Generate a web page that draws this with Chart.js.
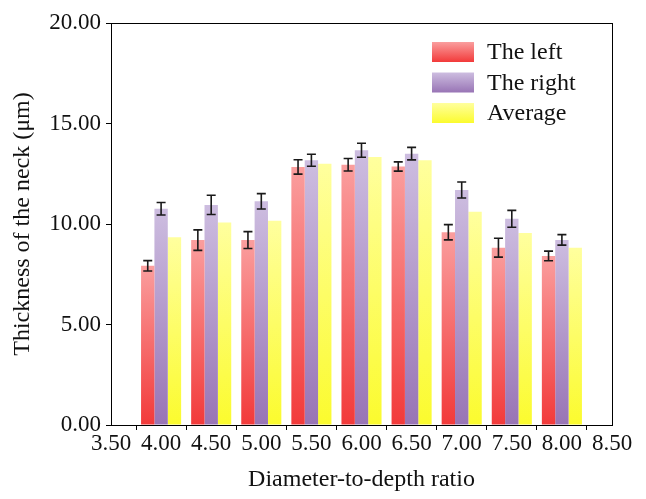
<!DOCTYPE html>
<html>
<head>
<meta charset="utf-8">
<script src="https://cdn.jsdelivr.net/npm/chart.js@4/dist/chart.umd.min.js"></script>
<style>
  html, body { margin: 0; padding: 0; background: #fff; }
  canvas { display: block; }
</style>
</head>
<body>
<canvas id="neckChart" width="646" height="499"></canvas>
<script>
// data
const ratios = [4.0, 4.5, 5.0, 5.5, 6.0, 6.5, 7.0, 7.5, 8.0];
const leftVals = [7.92, 9.20, 9.20, 12.84, 12.95, 12.86, 9.59, 8.82, 8.41];
const leftErr = [0.26, 0.51, 0.42, 0.36, 0.31, 0.23, 0.38, 0.47, 0.24];
const rightVals = [10.76, 10.95, 11.13, 13.17, 13.67, 13.50, 11.69, 10.26, 9.21];
const rightErr = [0.31, 0.48, 0.38, 0.30, 0.35, 0.31, 0.40, 0.42, 0.26];
const avgVals = [9.34, 10.08, 10.16, 13.00, 13.33, 13.17, 10.61, 9.55, 8.82];
const yTicks = [0, 5, 10, 15, 20];

const FAMILY = '"Liberation Serif", "Times New Roman", serif';
const FONT = { family: FAMILY, size: 24 };
const TICK_FONT = { family: FAMILY, size: 23 };

// top light -> bottom saturated, per bar
function barGradient(top, bottom) {
    return function (c) {
        const chart = c.chart;
        const area = chart.chartArea;
        if (!area || c.raw == null) return bottom;
        const yTop = chart.scales.y.getPixelForValue(c.raw.y);
        const g = chart.ctx.createLinearGradient(0, yTop, 0, area.bottom);
        g.addColorStop(0, top);
        g.addColorStop(1, bottom);
        return g;
    };
}

const series = [
    { label: 'The left', vals: leftVals, err: leftErr, top: '#fa9e9e', bottom: '#f23a3a' },
    { label: 'The right', vals: rightVals, err: rightErr, top: '#cdbde0', bottom: '#9874b5' },
    { label: 'Average', vals: avgVals, err: null, top: '#ffff9e', bottom: '#fbfb2e' }
];

// error bars + frame + legend
const extras = {
    id: 'extras',
    afterDatasetsDraw(chart) {
        const ctx = chart.ctx;
        const y = chart.scales.y;
        ctx.save();
        ctx.strokeStyle = '#1a1a1a';
        ctx.lineWidth = 1.6;
        series.forEach((s, i) => {
            if (!s.err) return;
            chart.getDatasetMeta(i).data.forEach((bar, j) => {
                const hi = y.getPixelForValue(s.vals[j] + s.err[j]);
                const lo = y.getPixelForValue(s.vals[j] - s.err[j]);
                const x = bar.x;
                ctx.beginPath();
                ctx.moveTo(x, hi); ctx.lineTo(x, lo);
                ctx.moveTo(x - 4.5, hi); ctx.lineTo(x + 4.5, hi);
                ctx.moveTo(x - 4.5, lo); ctx.lineTo(x + 4.5, lo);
                ctx.stroke();
            });
        });
        ctx.restore();
    },
    afterDraw(chart) {
        const ctx = chart.ctx;
        const a = chart.chartArea;
        ctx.save();
        ctx.strokeStyle = '#000';
        ctx.lineWidth = 1;
        ctx.strokeRect(a.left + 0.5, a.top + 0.5, a.right - a.left, a.bottom - a.top);

        // legend, top right inside the plot
        const bx = 432, by = 42, bw = 42, bh = 20, gap = 30.5;
        ctx.font = FONT.size + 'px ' + FONT.family;
        ctx.textBaseline = 'middle';
        series.forEach((s, i) => {
            const yy = by + i * gap;
            const g = ctx.createLinearGradient(0, yy, 0, yy + bh);
            g.addColorStop(0, s.top);
            g.addColorStop(1, s.bottom);
            ctx.fillStyle = g;
            ctx.fillRect(bx, yy, bw, bh);
            ctx.fillStyle = '#111';
            ctx.fillText(s.label, bx + 55, yy + bh / 2 + 1);
        });
        ctx.restore();
    }
};

new Chart(document.getElementById('neckChart'), {
    type: 'bar',
    data: {
        datasets: series.map(s => ({
            label: s.label,
            data: ratios.map((r, i) => ({ x: r, y: s.vals[i] })),
            backgroundColor: barGradient(s.top, s.bottom),
            borderWidth: 0,
            categoryPercentage: 0.8,
            barPercentage: 1.0
        }))
    },
    options: {
        responsive: false,
        animation: false,
        layout: { padding: { top: 23, right: 34, left: 0, bottom: 0 } },
        plugins: { legend: { display: false }, tooltip: { enabled: false } },
        scales: {
            x: {
                type: 'linear',
                min: 3.5,
                max: 8.5,
                offset: false,
                afterFit(scale) { scale.height = 74; },
                ticks: {
                    stepSize: 0.5,
                    padding: 0,
                    color: '#111',
                    font: TICK_FONT,
                    maxRotation: 0,
                    autoSkip: false,
                    callback: v => v.toFixed(2)
                },
                grid: { drawOnChartArea: false, drawTicks: true, tickLength: 5, color: '#000' },
                border: { color: '#000', width: 1 },
                title: {
                    display: true,
                    text: 'Diameter-to-depth ratio',
                    color: '#111',
                    font: FONT,
                    padding: { top: 0, bottom: 5 }
                }
            },
            y: {
                min: 0,
                max: 20,
                afterFit(scale) { scale.width = 111; },
                afterBuildTicks(scale) { scale.ticks = yTicks.map(v => ({ value: v })); },
                ticks: {
                    padding: 5,
                    color: '#111',
                    font: TICK_FONT,
                    callback: v => v.toFixed(2)
                },
                grid: { drawOnChartArea: false, drawTicks: true, tickLength: 5, color: '#000' },
                border: { color: '#000', width: 1 },
                title: {
                    display: true,
                    text: 'Thickness of the neck (μm)',
                    color: '#111',
                    font: FONT,
                    padding: { top: 8, bottom: 0 }
                }
            }
        }
    },
    plugins: [extras]
});
</script>
</body>
</html>
